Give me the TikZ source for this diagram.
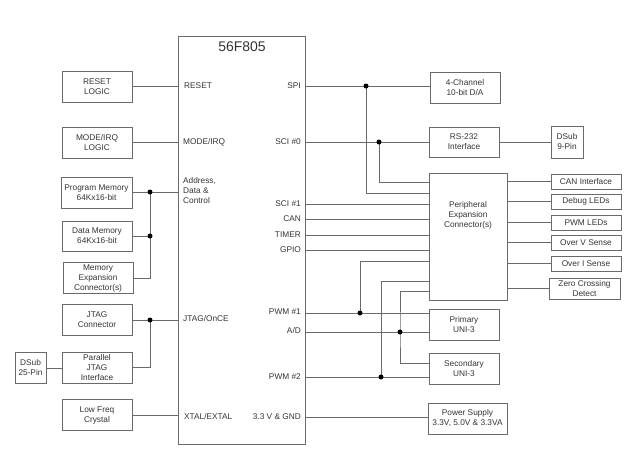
\documentclass[tikz,border=0pt]{standalone}
\usepackage{fontspec}
\setmainfont{Liberation Sans}
\definecolor{lc}{HTML}{6A6A6A}
\definecolor{tc}{HTML}{333333}
\begin{document}
\begin{tikzpicture}[x=1pt,y=-1pt,
  box/.style={draw=lc, line width=0.8pt, inner sep=0pt, align=center, font=\fontsize{8.3}{10}\selectfont, text=tc},
  wire/.style={draw=lc, line width=0.8pt},
  jdot/.style={circle, fill=black, inner sep=0pt, minimum size=5pt},
  lbl/.style={inner sep=0pt, align=left, font=\fontsize{8.3}{10}\selectfont, text=tc}]
\useasboundingbox (0,0) rectangle (640,461);

% main chip
\node[box, minimum width=127pt, minimum height=408pt] (main) at (241.5,240) {};
\node[lbl, font=\fontsize{14}{16}\selectfont] (title) at (242,47) {56F805};

% left pin labels
\node[lbl, anchor=west] (lRESET) at (184,86) {RESET};
\node[lbl, anchor=west] (lMODE) at (183,142) {MODE/IRQ};
\node[lbl, anchor=west] (lADDR) at (183,191) {Address,\\Data \&\\Control};
\node[lbl, anchor=west] (lJTAG) at (183,319) {JTAG/OnCE};
\node[lbl, anchor=west] (lXTAL) at (184,417) {XTAL/EXTAL};

% right pin labels
\node[lbl, anchor=east] (lSPI) at (301,86) {SPI};
\node[lbl, anchor=east] (lSCI0) at (301,142) {SCI \#0};
\node[lbl, anchor=east] (lSCI1) at (301,204) {SCI \#1};
\node[lbl, anchor=east] (lCAN) at (301,219) {CAN};
\node[lbl, anchor=east] (lTIMER) at (301,235) {TIMER};
\node[lbl, anchor=east] (lGPIO) at (301,250) {GPIO};
\node[lbl, anchor=east] (lPWM1) at (301,312) {PWM \#1};
\node[lbl, anchor=east] (lAD) at (301,331) {A/D};
\node[lbl, anchor=east] (lPWM2) at (301,377) {PWM \#2};
\node[lbl, anchor=east] (lGND) at (301,417) {3.3 V \& GND};

% pin coordinates on the right edge
\coordinate (pSPI) at (305,86);
\coordinate (pSCI0) at (305,142);
\coordinate (pSCI1) at (305,204);
\coordinate (pCAN) at (305,219);
\coordinate (pTIMER) at (305,235);
\coordinate (pGPIO) at (305,250);
\coordinate (pPWM1) at (305,313);
\coordinate (pAD) at (305,332);
\coordinate (pPWM2) at (305,377);
\coordinate (pGND) at (305,417);

% left boxes
\node[box, minimum width=70pt, minimum height=31pt] (rst) at (97,86.5) {RESET\\LOGIC};
\node[box, minimum width=70pt, minimum height=31pt] (mode) at (97,142.5) {MODE/IRQ\\LOGIC};
\node[box, minimum width=71pt, minimum height=31pt] (pmem) at (96.5,192.5) {Program Memory\\64Kx16-bit};
\node[box, minimum width=70pt, minimum height=30pt] (dmem) at (97,236) {Data Memory\\64Kx16-bit};
\node[box, minimum width=70pt, minimum height=31pt] (mexp) at (98,278) {Memory\\Expansion\\Connector(s)};
\node[box, minimum width=70pt, minimum height=31pt] (jtag) at (97,320) {JTAG\\Connector};
\node[box, minimum width=70pt, minimum height=31pt] (pjtag) at (97,367.5) {Parallel\\JTAG\\Interface};
\node[box, minimum width=31pt, minimum height=31pt] (dsub25) at (30.5,368) {DSub\\25-Pin};
\node[box, minimum width=70pt, minimum height=31pt] (xtal) at (97,415) {Low Freq\\Crystal};

% right boxes
\node[box, minimum width=70pt, minimum height=31pt] (da) at (465,87.5) {4-Channel\\10-bit D/A};
\node[box, minimum width=70pt, minimum height=30pt] (rs) at (464,142) {RS-232\\Interface};
\node[box, minimum width=32pt, minimum height=32pt] (dsub9) at (567,142) {DSub\\9-Pin};
\node[box, minimum width=78pt, minimum height=127pt] (pec) at (468,236.5) {};
\node[lbl, align=center] (pectext) at (468,215) {Peripheral\\Expansion\\Connector(s)};
\node[box, minimum width=70pt, minimum height=15pt] (canif) at (586,181.5) {CAN Interface};
\node[box, minimum width=70pt, minimum height=15pt] (dbg) at (586,201.5) {Debug LEDs};
\node[box, minimum width=70pt, minimum height=15pt] (pwml) at (586,222.5) {PWM LEDs};
\node[box, minimum width=70pt, minimum height=15pt] (ovs) at (586,242.5) {Over V Sense};
\node[box, minimum width=70pt, minimum height=15pt] (ois) at (586,263.5) {Over I Sense};
\node[box, minimum width=71pt, minimum height=21pt] (zcd) at (584.5,288.5) {Zero Crossing\\Detect};
\node[box, minimum width=70pt, minimum height=31pt] (prim) at (464,324.5) {Primary\\UNI-3};
\node[box, minimum width=70pt, minimum height=31pt] (sec) at (464,368.5) {Secondary\\UNI-3};
\node[box, minimum width=79pt, minimum height=31pt] (ps) at (467.5,418.5) {Power Supply\\3.3V, 5.0V \& 3.3VA};

% junction coordinates
\coordinate (jl1) at (150,192);
\coordinate (jl2) at (150,236);
\coordinate (jl3) at (150,320);
\coordinate (jr1) at (366,86);
\coordinate (jr2) at (379,142);
\coordinate (jr3) at (360,313);
\coordinate (jr4) at (400,332);
\coordinate (jr5) at (381,377);
\coordinate (pecA) at (429,182);
\coordinate (pecB) at (429,193);
\coordinate (pecC) at (429,261);
\coordinate (pecD) at (429,281);
\coordinate (pecE) at (429,291);
\coordinate (secA) at (429,363);

% left wires
\draw[wire] (rst.east) -- (rst.east -| main.west);
\draw[wire] (mode.east) -- (mode.east -| main.west);
\draw[wire] (pmem.east |- jl1) -- (jl1 -| main.west);
\draw[wire] (dmem.east |- jl2) -- (jl2);
\draw[wire] (mexp.east) -| (jl1);
\draw[wire] (jtag.east) -- (jtag.east -| main.west);
\draw[wire] (pjtag.east) -| (jl3);
\draw[wire] (dsub25.east) -- (dsub25.east -| pjtag.west);
\draw[wire] (xtal.east) -- (xtal.east -| main.west);

% right wires
\draw[wire] (pSPI) -- (pSPI -| da.west);
\draw[wire] (jr1) |- (pecB);
\draw[wire] (pSCI0) -- (pSCI0 -| rs.west);
\draw[wire] (jr2) |- (pecA);
\draw[wire] (rs.east) -- (rs.east -| dsub9.west);
\draw[wire] (pSCI1) -- (pSCI1 -| pec.west);
\draw[wire] (pCAN) -- (pCAN -| pec.west);
\draw[wire] (pTIMER) -- (pTIMER -| pec.west);
\draw[wire] (pGPIO) -- (pGPIO -| pec.west);
\foreach \b in {canif,dbg,pwml,ovs,ois,zcd}
  \draw[wire] (\b.west -| pec.east) -- (\b.west);
\draw[wire] (pecC) -| (jr3);
\draw[wire] (pecD) -| (jr5);
\draw[wire] (pecE) -| (jr4) |- (secA);
\draw[wire] (pPWM1) -- (pPWM1 -| prim.west);
\draw[wire] (pAD) -- (pAD -| prim.west);
\draw[wire] (pPWM2) -- (pPWM2 -| sec.west);
\draw[wire] (pGND) -- (pGND -| ps.west);

% junction dots
\foreach \j in {jl1,jl2,jl3,jr1,jr2,jr3,jr4,jr5}
  \node[jdot] at (\j) {};
\end{tikzpicture}
\end{document}
